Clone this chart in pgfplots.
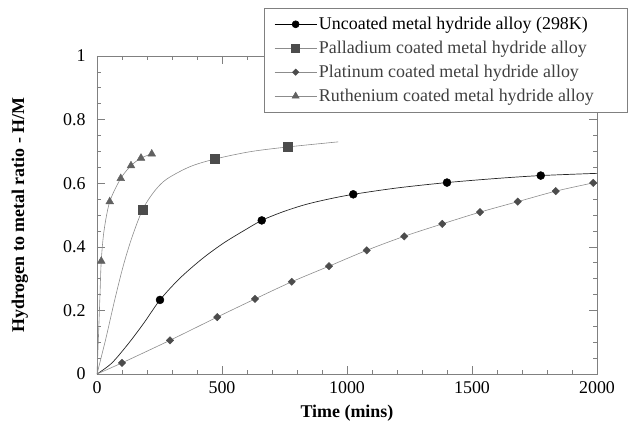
\documentclass[border=0pt]{standalone}
\usepackage{fontspec}
\setmainfont{Liberation Serif}
\usepackage{pgfplots}
\pgfplotsset{compat=1.18}
\definecolor{axgray}{gray}{0.5}
\definecolor{lngray}{gray}{0.55}
\definecolor{mkdark}{gray}{0.3}
\definecolor{mktri}{gray}{0.38}
\definecolor{txtgray}{gray}{0.25}
\pgfplotstableread{
x y
0 0
60 0.035
130 0.100
190 0.163
252 0.233
330 0.300
420 0.362
505 0.411
590 0.452
659 0.483
740 0.509
830 0.532
920 0.549
1025 0.565
1200 0.585
1400 0.602
1600 0.615
1775 0.624
2000 0.631
}\uncline
\pgfplotstableread{
x y
252 0.233
659 0.483
1025 0.565
1400 0.602
1775 0.624
}\uncmark
\pgfplotstableread{
x y
0 0
35 0.110
70 0.230
105 0.340
140 0.430
183 0.518
230 0.575
279 0.613
372 0.652
472 0.676
612 0.699
763 0.714
965 0.730
}\palline
\pgfplotstableread{
x y
183 0.518
472 0.676
763 0.714
}\palmark
\pgfplotstableread{
x y
0 0
100 0.035
292 0.106
481 0.179
632 0.236
779 0.290
928 0.339
1079 0.389
1229 0.433
1381 0.472
1532 0.509
1683 0.542
1835 0.575
1985 0.601
}\platline
\pgfplotstableread{
x y
100 0.035
292 0.106
481 0.179
632 0.236
779 0.290
928 0.339
1079 0.389
1229 0.433
1381 0.472
1532 0.509
1683 0.542
1835 0.575
1985 0.601
}\platmark
\pgfplotstableread{
x y
0 0
6 0.120
12 0.250
17 0.355
28 0.450
51 0.542
95 0.615
136 0.655
176 0.679
219 0.692
}\ruthline
\pgfplotstableread{
x y
17 0.355
51 0.542
95 0.615
136 0.655
176 0.679
219 0.692
}\ruthmark
\begin{document}
\begin{tikzpicture}
\useasboundingbox (-97bp,-53bp) rectangle (543bp,374bp);
\begin{axis}[
  scale only axis, width=500bp, height=318bp,
  xmin=0, xmax=2000, ymin=0, ymax=1,
  xtick={0,500,1000,1500,2000},
  ytick={0,0.2,0.4,0.6,0.8,1},
  yticklabels={0,0.2,0.4,0.6,0.8,1},
  minor x tick num=4, minor y tick num=3,
  tick align=inside,
  major tick length=8bp, minor tick length=4bp,
  axis line style={axgray, line width=0.8pt},
  every tick/.style={axgray, line width=0.6pt},
  ticklabel style={font=\fontsize{18}{20}\selectfont},
  /pgf/number format/assume math mode=true,
  /pgf/number format/1000 sep={},
  xticklabel style={yshift=-4bp},
  yticklabel style={xshift=-8bp},
  xlabel={Time (mins)},
  ylabel={Hydrogen to metal ratio - H/M},
  label style={font=\fontsize{18}{20}\selectfont\bfseries},
  xlabel style={at={(axis description cs:0.5,-0.123)}, anchor=center},
  ylabel style={at={(axis description cs:-0.154,0.5)}, anchor=center},
  legend style={at={(axis description cs:0.334,1.151)}, anchor=north west,
    draw=axgray, line width=0.7pt, fill=white,
    font=\fontsize{18}{20}\selectfont,
    inner xsep=10bp, inner ysep=7bp, row sep=6bp,
    nodes={inner sep=2bp}},
  legend cell align=left,
  legend image code/.code={\draw[#1, mark repeat=2, mark phase=2] plot coordinates {(0bp,0bp) (21bp,0bp) (42bp,0bp)};},
]
\addlegendimage{black, line width=0.6pt, mark=*, mark size=3.5bp, mark options={solid}}
\addlegendimage{lngray, line width=0.6pt, mark=square*, mark size=4bp, mark options={mkdark}}
\addlegendimage{lngray, line width=0.6pt, mark=square*, mark size=2.2bp, mark options={mkdark, rotate=45}}
\addlegendimage{lngray, line width=0.6pt, mark=triangle*, mark size=4bp, mark options={mktri}}
\legend{Uncoated metal hydride alloy (298K),
  \textcolor{txtgray}{Palladium coated metal hydride alloy},
  \textcolor{txtgray}{Platinum coated metal hydride alloy},
  \textcolor{txtgray}{Ruthenium coated metal hydride alloy}\hspace*{22bp}}
\addplot[forget plot, black!85, line width=0.7pt, smooth, tension=0.5, no marks] table {\uncline};
\addplot[forget plot, lngray, line width=0.6pt, smooth, tension=0.5, no marks] table {\palline};
\addplot[forget plot, lngray, line width=0.6pt, smooth, tension=0.5, no marks] table {\platline};
\addplot[forget plot, lngray, line width=0.6pt, smooth, tension=0.5, no marks] table {\ruthline};
\addplot[forget plot, only marks, mark=*, mark size=4bp, black] table {\uncmark};
\addplot[forget plot, only marks, mark=square*, mark size=4.5bp, mkdark] table {\palmark};
\addplot[forget plot, only marks, mark=square*, mark size=2.6bp, mkdark, mark options={rotate=45}] table {\platmark};
\addplot[forget plot, only marks, mark=triangle*, mark size=4.5bp, mktri] table {\ruthmark};
\end{axis}
\end{tikzpicture}
\end{document}
